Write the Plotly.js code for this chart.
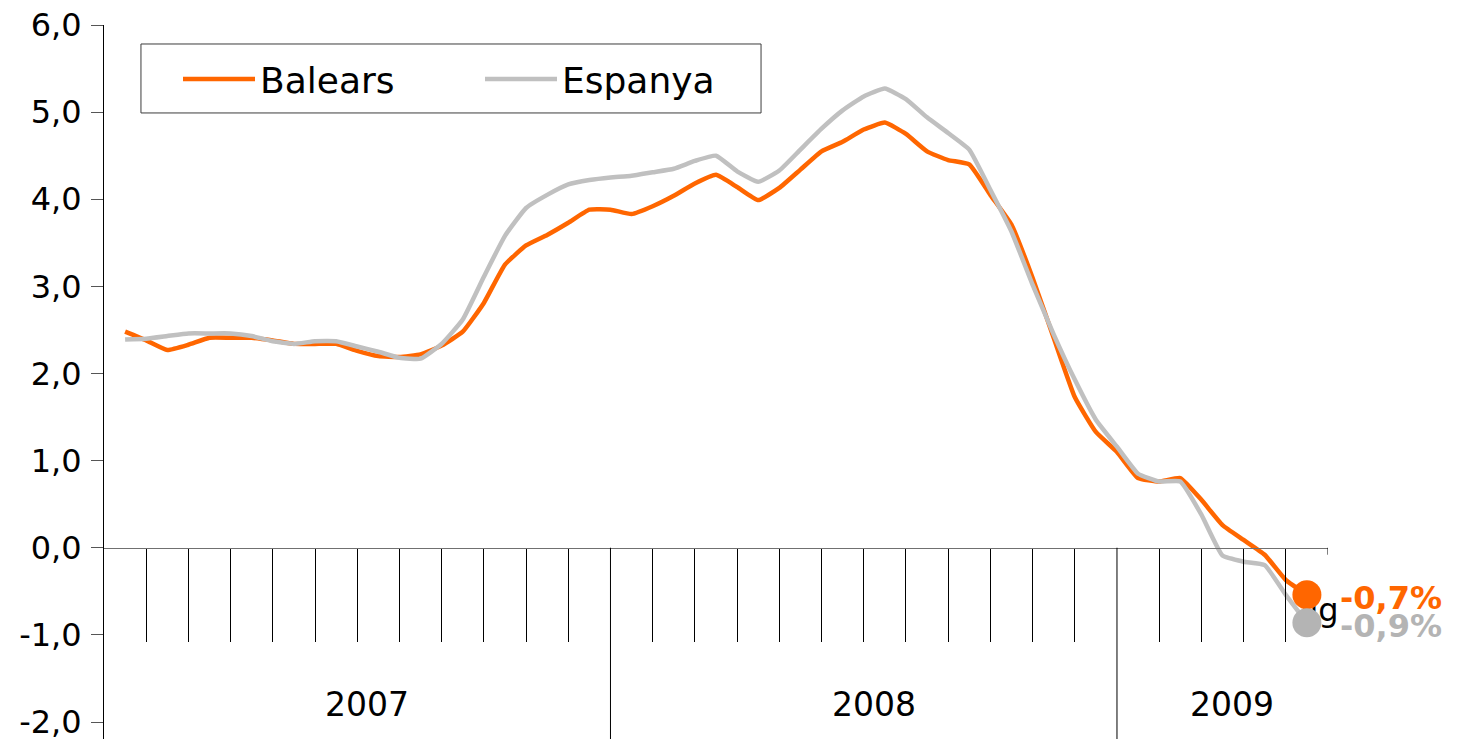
<!DOCTYPE html>
<html>
<head>
<meta charset="utf-8">
<script src="https://cdn.plot.ly/plotly-3.0.1.min.js"></script>
<style>html,body{margin:0;padding:0;background:#fff;}#chart{width:1459px;height:739px;}</style>
</head>
<body>
<div id="chart"></div>
<script>
// Half-monthly readings, Jan 2007 .. May 2009 (x measured in months from Jan 2007)
const balears = [2.48,2.38,2.27,2.33,2.41,2.41,2.41,2.38,2.34,2.34,2.34,2.26,2.20,2.19,2.22,2.32,2.48,2.81,3.25,3.47,3.59,3.73,3.88,3.88,3.83,3.92,4.04,4.18,4.28,4.14,3.99,4.13,4.34,4.55,4.66,4.80,4.88,4.75,4.55,4.45,4.40,4.05,3.71,3.10,2.41,1.73,1.33,1.10,0.80,0.76,0.80,0.55,0.26,0.09,-0.08,-0.37,-0.54];
const espanya = [2.39,2.40,2.43,2.46,2.46,2.46,2.43,2.37,2.34,2.37,2.37,2.31,2.25,2.18,2.17,2.34,2.62,3.11,3.58,3.90,4.05,4.17,4.22,4.25,4.27,4.31,4.35,4.44,4.50,4.32,4.20,4.33,4.57,4.81,5.02,5.18,5.27,5.15,4.94,4.76,4.57,4.11,3.63,3.02,2.45,1.93,1.47,1.16,0.85,0.76,0.76,0.38,-0.09,-0.16,-0.20,-0.54,-0.86];
const seriesNames = ['Balears','Espanya'];
const endLabels = ['-0,7%','-0,9%'];
const years = ['2007','2008','2009'];
const yearStart = [0,12,24];   // month index where each year starts
const yearEnd = [12,24,29];
const yTicks = [-2,-1,0,1,2,3,4,5,6];
const yTickText = ['-2,0','-1,0','0,0','1,0','2,0','3,0','4,0','5,0','6,0'];
const strayText = 'lig';

const orange = '#FF6600', grey = '#C0C0C0', greyMark = '#B4B4B4';
const FONT = 'DejaVu Sans, sans-serif';
const xs = balears.map((_, i) => 0.5 + 0.5 * i);
const xmax = 29, ymin = -2.195, ymax = 6;
const last = xs.length - 1;

const monthTicks = [];
for (let m = 1; m < xmax; m++) if (!yearStart.includes(m)) monthTicks.push(m);

const traces = [
  {x: xs, y: balears, name: seriesNames[0], type: 'scatter', mode: 'lines',
   line: {color: orange, width: 4.5, shape: 'spline', smoothing: 0.4}},
  {x: xs, y: espanya, name: seriesNames[1], type: 'scatter', mode: 'lines',
   line: {color: grey, width: 4.5, shape: 'spline', smoothing: 0.4}},
  {x: [xs[last] + 0.3], y: [(balears[last] + espanya[last]) / 2 - 0.05], mode: 'text', text: [strayText],
   textposition: 'middle center', textfont: {family: FONT, size: 32, color: '#000'},
   showlegend: false, cliponaxis: false, hoverinfo: 'skip'},
  {x: [xs[last]], y: [balears[last]], mode: 'markers', marker: {color: orange, size: 29},
   showlegend: false, cliponaxis: false},
  {x: [xs[last]], y: [espanya[last]], mode: 'markers', marker: {color: greyMark, size: 29},
   showlegend: false, cliponaxis: false}
];

const shapes = [];
yearStart.slice(1).forEach(m => shapes.push({type: 'line', xref: 'x', yref: 'y', x0: m, x1: m, y0: 0, y1: ymin,
  line: {color: '#000', width: 1}}));
shapes.push({type: 'line', xref: 'x', yref: 'y', x0: xmax, x1: xmax, y0: 0, y1: -0.08, line: {color: '#000', width: 1}});
// legend frame
shapes.push({type: 'rect', xref: 'paper', yref: 'paper', x0: 0.0302, x1: 0.5368, y0: 0.8768, y1: 0.9734,
  line: {color: '#3c3c3c', width: 1}, fillcolor: 'rgba(0,0,0,0)'});

const annotations = years.map((t, i) => ({
  x: (yearStart[i] + yearEnd[i]) / 2, y: -1.8, xref: 'x', yref: 'y', text: t, showarrow: false,
  xshift: 10, font: {family: FONT, size: 33, color: '#000'}
}));
[[balears, orange], [espanya, greyMark]].forEach(([s, c], i) => annotations.push({
  x: xs[last], y: s[last], xref: 'x', yref: 'y', text: '<b>' + endLabels[i] + '</b>', showarrow: false,
  xanchor: 'left', yanchor: 'middle', xshift: 31, yshift: -3,
  font: {family: FONT, size: 32, color: c}
}));

const layout = {
  width: 1459, height: 739,
  margin: {l: 104, r: 131, t: 25, b: 0},
  paper_bgcolor: '#fff', plot_bgcolor: '#fff',
  font: {family: FONT, size: 31, color: '#000'},
  xaxis: {range: [0, xmax], showgrid: false, zeroline: false, showline: true, linecolor: '#707070', linewidth: 1.5,
    anchor: 'free', position: (0 - ymin) / (ymax - ymin),
    tickmode: 'array', tickvals: monthTicks, ticks: 'outside', ticklen: 93, tickcolor: '#000', tickwidth: 1,
    showticklabels: false, fixedrange: true},
  yaxis: {range: [ymin, ymax], showgrid: false, zeroline: false, showline: true, linecolor: '#000', linewidth: 1,
    tickmode: 'array', tickvals: yTicks, ticktext: yTickText, ticks: 'outside', ticklen: 12, tickcolor: '#555',
    ticklabelstandoff: 3, ticklabeloverflow: 'allow', tickfont: {family: FONT, size: 32, color: '#000'}, fixedrange: true},
  showlegend: true,
  legend: {orientation: 'h', x: (178 - 104) / 1224, y: 1 - (79 - 25) / 714, xanchor: 'left', yanchor: 'middle',
    borderwidth: 0, bgcolor: 'rgba(0,0,0,0)', font: {family: FONT, size: 36, color: '#000'},
    itemwidth: 72, entrywidth: 215},
  shapes: shapes,
  annotations: annotations
};

Plotly.newPlot('chart', traces, layout, {displayModeBar: false, staticPlot: true});
</script>
</body>
</html>
